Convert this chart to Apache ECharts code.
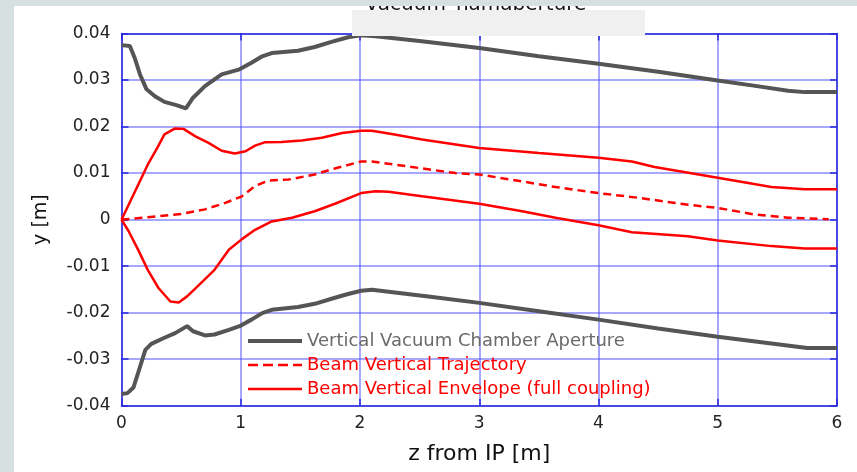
<!DOCTYPE html>
<html>
<head>
<meta charset="utf-8">
<script src="https://cdn.jsdelivr.net/npm/echarts@6/dist/echarts.min.js"></script>
<style>
  html, body { margin: 0; padding: 0; background: #ffffff; }
  #chart { width: 857px; height: 472px; }
</style>
</head>
<body>
<div id="chart"></div>
<script>
// data: [z (m), y (m)]
const apertureUpper = [
  [0, 0.0375], [0.07, 0.0373], [0.11, 0.0348], [0.155, 0.0312], [0.21, 0.028],
  [0.28, 0.0265], [0.36, 0.0253], [0.46, 0.0246], [0.54, 0.0239], [0.6, 0.0262],
  [0.7, 0.0287], [0.84, 0.0312], [0.99, 0.0323], [1.09, 0.0337], [1.18, 0.0351],
  [1.26, 0.0358], [1.48, 0.0363], [1.62, 0.0371], [1.76, 0.0382], [1.9, 0.0392],
  [2.01, 0.0396], [2.13, 0.0394], [2.5, 0.0384], [3.0, 0.0369], [3.5, 0.0351],
  [4.0, 0.0335], [4.5, 0.0318], [5.0, 0.0299], [5.3, 0.0288], [5.59, 0.0277],
  [5.73, 0.0274], [6.0, 0.0274]
];
const apertureLower = [
  [0, -0.0375], [0.05, -0.0373], [0.1, -0.0361], [0.14, -0.0329], [0.2, -0.028],
  [0.25, -0.0267], [0.36, -0.0254], [0.45, -0.0244], [0.55, -0.0229], [0.6, -0.024],
  [0.7, -0.0249], [0.78, -0.0247], [0.9, -0.0237], [0.99, -0.0229], [1.09, -0.0215],
  [1.18, -0.0201], [1.26, -0.0194], [1.48, -0.0188], [1.62, -0.0181], [1.79, -0.0168],
  [1.9, -0.016], [2.01, -0.0153], [2.1, -0.0151], [2.59, -0.0166], [3.0, -0.0179],
  [3.5, -0.0197], [4.0, -0.0215], [4.5, -0.0234], [5.0, -0.0252], [5.75, -0.0276],
  [6.0, -0.0276]
];
const envelopeUpper = [
  [0, 0], [0.06, 0.0032], [0.14, 0.0075], [0.22, 0.0118], [0.3, 0.0154],
  [0.36, 0.0183], [0.45, 0.0196], [0.52, 0.0195], [0.62, 0.0179], [0.73, 0.0165],
  [0.84, 0.0148], [0.95, 0.0142], [1.04, 0.0147], [1.12, 0.0159], [1.2, 0.0166],
  [1.34, 0.0167], [1.51, 0.017], [1.68, 0.0176], [1.85, 0.0186], [2.01, 0.0191],
  [2.1, 0.0191], [2.29, 0.0183], [2.52, 0.0172], [3.0, 0.0154], [3.5, 0.0143],
  [4.0, 0.0133], [4.28, 0.0125], [4.47, 0.0113], [5.0, 0.009], [5.45, 0.007],
  [5.73, 0.0065], [6.0, 0.0065]
];
const envelopeLower = [
  [0, 0], [0.06, -0.0025], [0.14, -0.0065], [0.22, -0.0108], [0.31, -0.0147],
  [0.41, -0.0176], [0.48, -0.0178], [0.55, -0.0165], [0.64, -0.0143], [0.78, -0.0108],
  [0.9, -0.0065], [1.01, -0.0042], [1.12, -0.0022], [1.26, -0.0004], [1.43, 0.0004],
  [1.62, 0.0018], [1.79, 0.0034], [2.01, 0.0057], [2.13, 0.0061], [2.24, 0.006],
  [2.52, 0.005], [3.0, 0.0034], [3.36, 0.0018], [3.64, 0.0004], [4.0, -0.0012],
  [4.28, -0.0027], [4.75, -0.0036], [5.0, -0.0045], [5.45, -0.0057], [5.73, -0.0062],
  [6.0, -0.0062]
];
const trajectory = [
  [0, 0], [0.22, 0.0005], [0.5, 0.0012], [0.7, 0.0022], [0.87, 0.0036],
  [1.01, 0.005], [1.12, 0.0072], [1.23, 0.0084], [1.4, 0.0086], [1.62, 0.0097],
  [1.79, 0.011], [2.01, 0.0125], [2.1, 0.0125], [2.38, 0.0115], [2.8, 0.01],
  [3.0, 0.0097], [3.36, 0.0082], [3.64, 0.007], [4.0, 0.0057], [4.33, 0.0047],
  [4.75, 0.0032], [5.0, 0.0025], [5.31, 0.0011], [5.59, 0.0004], [5.93, 0.0001]
];

const seriesNames = [
  'Vertical Vacuum Chamber Aperture',
  'Beam Vertical Trajectory',
  'Beam Vertical Envelope (full coupling)'
];
const titleText = 'vacuum_namaperture';
const xName = 'z from IP [m]';
const yName = 'y [m]';

const FONT = 'DejaVu Sans';
const GRAY = '#555555';
const RED = '#ff0000';
const BLUE = '#2a2ae0';
const GRID_BLUE = '#5050ff';

const chart = echarts.init(document.getElementById('chart'), null, { renderer: 'canvas' });

function yLabel(v) {
  if (Math.abs(v) < 1e-9) return '0';
  return v.toFixed(2);
}

const frameAxis = {
  axisLine: { show: true, onZero: false, lineStyle: { color: BLUE, width: 1.5 } },
  axisTick: { show: true, inside: true, length: 7, lineStyle: { color: BLUE, width: 1.5 } },
  splitLine: { show: false },
  axisLabel: { show: false }
};

const gridLine = { show: true, lineStyle: { color: GRID_BLUE, type: [1, 1], width: 2 } };

const option = {
  animation: false,
  backgroundColor: '#ffffff',
  grid: { left: 121.5, right: 20, top: 33.5, bottom: 66.3, containLabel: false },
  xAxis: [
    {
      type: 'value', min: 0, max: 6, interval: 1, position: 'bottom',
      name: xName, nameLocation: 'middle', nameGap: 38,
      nameTextStyle: { fontFamily: FONT, fontSize: 22, color: '#111' },
      axisLine: { show: true, onZero: false, lineStyle: { color: BLUE, width: 1.5 } },
      axisTick: { show: true, inside: true, length: 7, lineStyle: { color: BLUE, width: 1.5 } },
      axisLabel: { fontFamily: FONT, fontSize: 17, color: '#222', margin: 9 },
      splitLine: gridLine
    },
    Object.assign({ type: 'value', min: 0, max: 6, interval: 1, position: 'top' }, frameAxis)
  ],
  yAxis: [
    {
      type: 'value', min: -0.04, max: 0.04, interval: 0.01, position: 'left',
      name: yName, nameLocation: 'middle', nameGap: 71,
      nameTextStyle: { fontFamily: FONT, fontSize: 19, color: '#111' },
      axisLine: { show: true, onZero: false, lineStyle: { color: BLUE, width: 1.5 } },
      axisTick: { show: true, inside: true, length: 7, lineStyle: { color: BLUE, width: 1.5 } },
      axisLabel: { fontFamily: FONT, fontSize: 17, color: '#222', margin: 11, formatter: yLabel },
      splitLine: gridLine
    },
    Object.assign({ type: 'value', min: -0.04, max: 0.04, interval: 0.01, position: 'right' }, frameAxis)
  ],
  legend: {
    orient: 'vertical',
    left: 248,
    top: 332,
    padding: 0,
    itemWidth: 54,
    itemHeight: 4,
    itemGap: 6,
    symbolKeepAspect: true,
    selectedMode: false,
    textStyle: { fontFamily: FONT, fontSize: 18 },
    data: [
      {
        name: seriesNames[0], icon: 'path://M0,0H54V4H0Z',
        itemStyle: { color: GRAY }, textStyle: { color: '#6a6a6a' }
      },
      {
        name: seriesNames[1],
        icon: 'path://M0,0H10V2.5H0Z M15,0H25V2.5H15Z M30,0H40V2.5H30Z M45,0H54V2.5H45Z',
        itemStyle: { color: RED }, textStyle: { color: RED }
      },
      {
        name: seriesNames[2], icon: 'path://M0,0H54V2.5H0Z',
        itemStyle: { color: RED }, textStyle: { color: RED }
      }
    ]
  },
  series: [
    {
      name: seriesNames[0], type: 'line', data: apertureUpper, symbol: 'none',
      lineStyle: { color: GRAY, width: 4 }, itemStyle: { color: GRAY }
    },
    {
      name: seriesNames[0], type: 'line', data: apertureLower, symbol: 'none',
      lineStyle: { color: GRAY, width: 4 }, itemStyle: { color: GRAY }
    },
    {
      name: seriesNames[1], type: 'line', data: trajectory, symbol: 'none',
      lineStyle: { color: RED, width: 2.5, type: [8, 5] }, itemStyle: { color: RED }
    },
    {
      name: seriesNames[2], type: 'line', data: envelopeUpper, symbol: 'none',
      lineStyle: { color: RED, width: 2.5 }, itemStyle: { color: RED }
    },
    {
      name: seriesNames[2], type: 'line', data: envelopeLower, symbol: 'none',
      lineStyle: { color: RED, width: 2.5 }, itemStyle: { color: RED }
    }
  ],
  graphic: [
    // cut-off title, then page strips and the grey box drawn over it
    {
      type: 'text', z: 100, x: 366, y: 15,
      style: { text: titleText, fontFamily: FONT, fontSize: 20, fill: '#111', verticalAlign: 'bottom' }
    },
    { type: 'rect', z: 100, shape: { x: 0, y: 0, width: 857, height: 6 }, style: { fill: '#d6e0e0' } },
    { type: 'rect', z: 100, shape: { x: 0, y: 0, width: 14, height: 472 }, style: { fill: '#d6e0e0' } },
    { type: 'rect', z: 100, shape: { x: 352, y: 10, width: 293, height: 26 }, style: { fill: '#f0f0f0' } }
  ]
};

chart.setOption(option);
</script>
</body>
</html>
